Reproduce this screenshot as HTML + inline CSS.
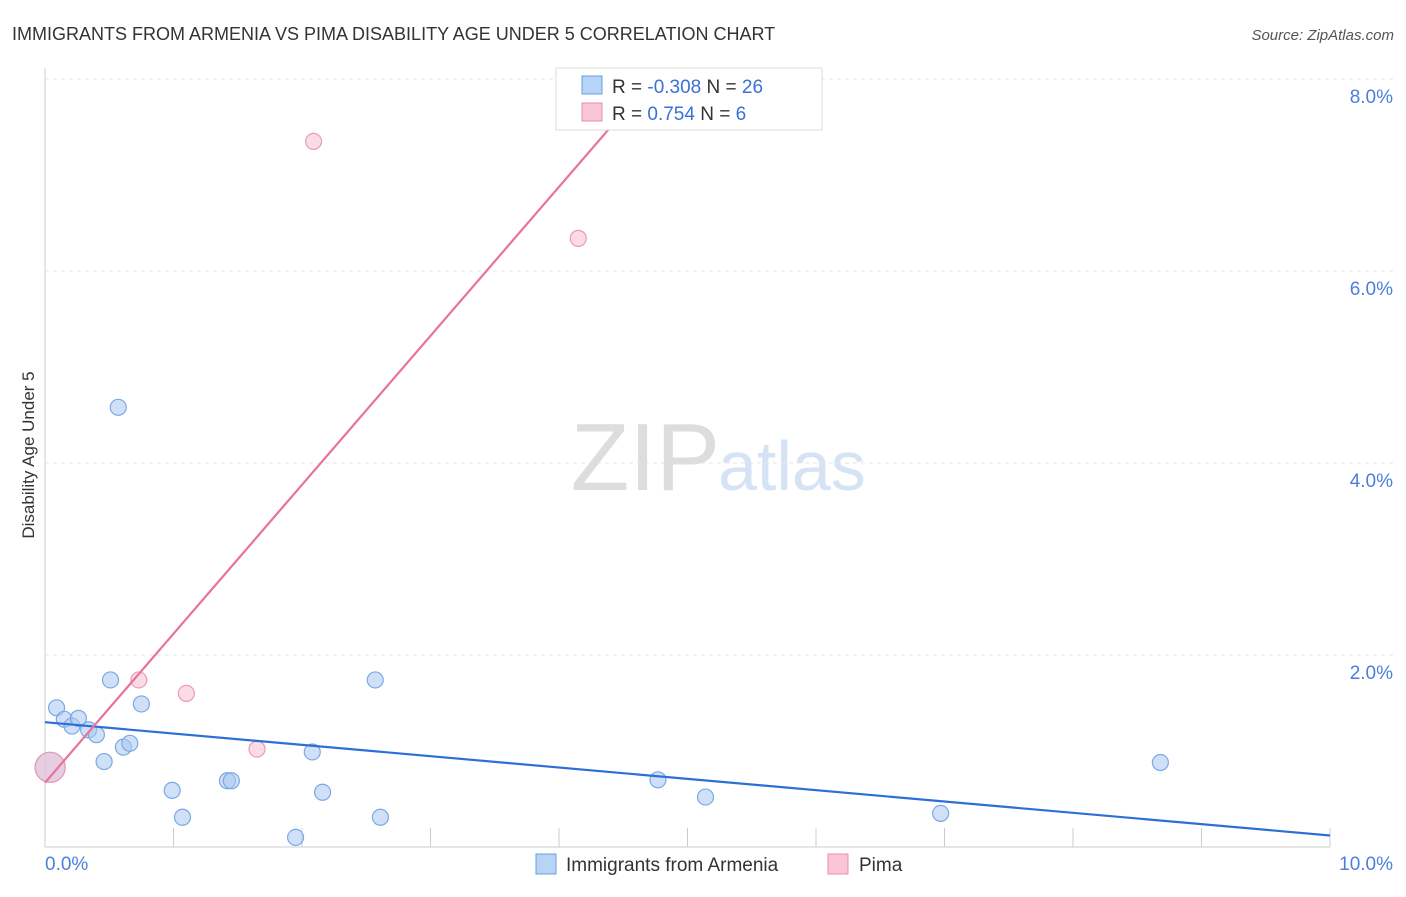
<!DOCTYPE html>
<html><head><meta charset="utf-8"><style>
body{margin:0;background:#fff;font-family:"Liberation Sans",sans-serif;}
svg text{font-family:"Liberation Sans",sans-serif;}
</style></head><body>
<svg id="chart" width="1406" height="892" xmlns="http://www.w3.org/2000/svg">
<text x="12" y="40" font-size="18" fill="#333">IMMIGRANTS FROM ARMENIA VS PIMA DISABILITY AGE UNDER 5 CORRELATION CHART</text>
<text x="1394" y="40" font-size="15" fill="#555" font-style="italic" text-anchor="end">Source: ZipAtlas.com</text>
<text x="720" y="490" font-size="96" fill="#ddd" text-anchor="end" font-family="Liberation Serif">ZIP</text>
<text x="718" y="490" font-size="70" fill="#d6e3f5">atlas</text>
<text transform="translate(34,455) rotate(-90)" font-size="17" fill="#333" text-anchor="middle">Disability Age Under 5</text>
<g id="grid"></g><g id="axes"></g><g id="marks"></g>
<g>
<rect x="556" y="68" width="266" height="62" fill="#fff" stroke="#ddd"/>
<rect x="582" y="76" width="20" height="18" fill="#b8d4f5" stroke="#6a9ee0"/>
<text x="612" y="93" font-size="19" fill="#333">R = <tspan fill="#3a6fd8">-0.308</tspan>   N = <tspan fill="#3a6fd8">26</tspan></text>
<rect x="582" y="103" width="20" height="18" fill="#f9c6d6" stroke="#ea8fad"/>
<text x="612" y="120" font-size="19" fill="#333">R =  <tspan fill="#3a6fd8">0.754</tspan>    N =   <tspan fill="#3a6fd8">6</tspan></text>
</g>
<g>
<rect x="536" y="854" width="20" height="20" fill="#b8d4f5" stroke="#6a9ee0"/>
<text x="566" y="871" font-size="19" fill="#333">Immigrants from Armenia</text>
<rect x="828" y="854" width="20" height="20" fill="#f9c6d6" stroke="#ea8fad"/>
<text x="859" y="871" font-size="19" fill="#333">Pima</text>
</g>
</svg>
<script>
const blueX=[0.09,0.15,0.21,0.26,0.34,0.40,0.46,0.51,0.57,0.61,0.66,0.75,0.99,1.07,1.42,1.45,1.95,2.08,2.16,2.57,2.61,4.77,5.14,6.97,8.68,0.04];
const blueY=[1.45,1.33,1.26,1.34,1.22,1.17,0.89,1.74,4.58,1.04,1.08,1.49,0.59,0.31,0.69,0.69,0.10,0.99,0.57,1.74,0.31,0.70,0.52,0.35,0.88,0.83];
const pinkX=[0.04,0.73,1.10,1.65,2.09,4.15];
const pinkY=[0.83,1.74,1.60,1.02,7.35,6.34];
const blueTrend=[[0,1.30],[10,0.12]];
const pinkTrend=[[0,0.67],[4.75,8.04]];
const yTicks=[2,4,6,8];
const yTickLabels=["2.0%","4.0%","6.0%","8.0%"];
const xTicks=[0,1,2,3,4,5,6,7,8,9,10];
const NS="http://www.w3.org/2000/svg";
const X=v=>45+v*128.5, Y=v=>847-v*96;
function mk(tag,attrs,parent){const e=document.createElementNS(NS,tag);for(const k in attrs)e.setAttribute(k,attrs[k]);document.getElementById(parent).appendChild(e);return e;}
yTicks.forEach((t,i)=>{
 const l=mk('line',{x1:45,x2:1395,y1:Y(t),y2:Y(t),stroke:'#e4e4e4','stroke-dasharray':'4,4'},'grid');
 
 
 const tx=mk('text',{x:1393,y:Y(t)+24,'font-size':19,fill:'#4a7fdc','text-anchor':'end'},'axes');
 tx.textContent=yTickLabels[i];
 
 
});
const tl=mk('line',{x1:45,x2:1395,y1:79,y2:79,stroke:'#e4e4e4','stroke-dasharray':'4,4'},'grid');


const ya=mk('line',{x1:45,x2:45,y1:68,y2:847,stroke:'#ccc'},'axes');


const xa=mk('line',{x1:45,x2:1330,y1:847,y2:847,stroke:'#ccc'},'axes');


xTicks.forEach(t=>{
 const l=mk('line',{x1:X(t),x2:X(t),y1:828,y2:847,stroke:'#ccc'},'axes');
 
 
});
const x0=mk('text',{x:45,y:870,'font-size':19,fill:'#4a7fdc'},'axes');x0.textContent='0.0%';


const x1=mk('text',{x:1393,y:870,'font-size':19,fill:'#4a7fdc','text-anchor':'end'},'axes');x1.textContent='10.0%';


blueX.forEach((v,i)=>{
 const r=i===blueX.length-1?15:8;
 const c=mk('circle',{cx:X(v),cy:Y(blueY[i]),r:r,fill:'rgba(170,200,240,0.55)',stroke:'#7aa8e6','stroke-width':1.2},'marks');
 
 
});
pinkX.forEach((v,i)=>{
 const r=i===0?15:8;
 const c=mk('circle',{cx:X(v),cy:Y(pinkY[i]),r:r,fill:'rgba(248,190,210,0.55)',stroke:'#ec9ab6','stroke-width':1.2},'marks');
 
 
});
const bl=mk('line',{x1:X(blueTrend[0][0]),y1:Y(blueTrend[0][1]),x2:X(blueTrend[1][0]),y2:Y(blueTrend[1][1]),stroke:'#2d6fd6','stroke-width':2.2},'marks');


const pl=mk('line',{x1:X(pinkTrend[0][0]),y1:Y(pinkTrend[0][1]),x2:X(pinkTrend[1][0]),y2:Y(pinkTrend[1][1]),stroke:'#e8739a','stroke-width':2.2},'marks');


</script>
</body></html>
